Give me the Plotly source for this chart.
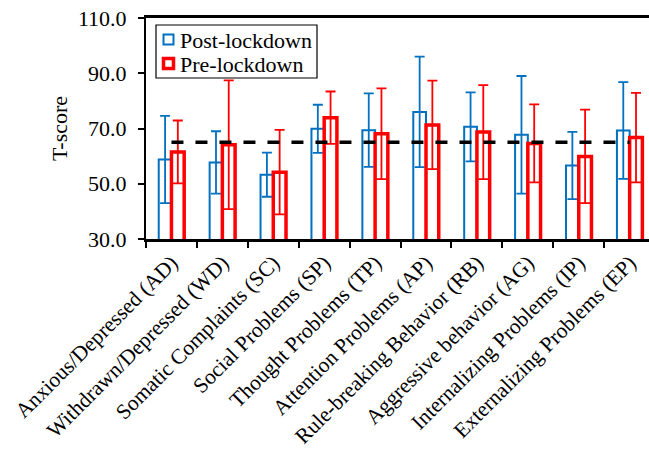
import plotly.graph_objects as go

categories = ["Anxious/Depressed (AD)", "Withdrawn/Depressed (WD)", "Somatic Complaints (SC)",
              "Social Problems (SP)", "Thought Problems (TP)", "Attention Problems (AP)",
              "Rule-breaking Behavior (RB)", "Aggressive behavior (AG)",
              "Internalizing Problems (IP)", "Externalizing Problems (EP)"]
post_mean = [58.8, 57.7, 53.3, 69.9, 69.4, 76.0, 70.6, 67.7, 56.6, 69.3]
post_sd = [15.8, 11.3, 8.0, 8.7, 13.3, 20.0, 12.5, 21.3, 12.2, 17.5]
pre_mean = [61.5, 64.1, 54.2, 73.9, 68.1, 71.3, 68.7, 64.6, 59.9, 66.7]
pre_sd = [11.4, 23.3, 15.3, 9.5, 16.4, 16.0, 17.0, 14.1, 16.9, 16.2]
cutoff = [65.0] * len(categories)
series_names = ["Post-lockdown", "Pre-lockdown"]
series_colors = ["#0070C0", "#FF0000"]

FONT = "Liberation Serif, Times New Roman, serif"
FS = 22

# plot-area geometry in pixels (layout only)
L, T, B, W, H = 146, 18, 210, 649, 449
PW, PH = W - L, H - T - B


def px_x(px):
    return (px - L) / PW


def px_y(py):
    return (H - B - py) / PH


fig = go.Figure()
fig.add_trace(go.Bar(
    x=categories, y=post_mean, name=series_names[0], showlegend=False,
    marker=dict(color="rgba(255,255,255,0)", line=dict(color=series_colors[0], width=2)),
    error_y=dict(type="data", array=post_sd, visible=True, color=series_colors[0], thickness=1.8, width=5),
))
fig.add_trace(go.Bar(
    x=categories, y=pre_mean, name=series_names[1], showlegend=False,
    marker=dict(color="rgba(255,255,255,0)", line=dict(color=series_colors[1], width=3.5)),
    error_y=dict(type="data", array=pre_sd, visible=True, color=series_colors[1], thickness=1.8, width=5),
))
fig.add_trace(go.Scatter(
    x=categories, y=cutoff, mode="lines", showlegend=False,
    line=dict(color="black", width=3.5, dash="12px,12px"),
))

# legend box drawn as layout shapes + text annotations
shapes = [dict(type="rect", xref="paper", yref="paper",
               x0=px_x(156), x1=px_x(317), y0=px_y(78), y1=px_y(25),
               line=dict(color="black", width=1.2), fillcolor="white", layer="above")]
annotations = []
rows = [39.5, 63.5]
widths = [2, 3.5]
for name, col, cy, lw in zip(series_names, series_colors, rows, widths):
    shapes.append(dict(type="rect", xref="paper", yref="paper",
                       x0=px_x(163.5), x1=px_x(173.5), y0=px_y(cy + 5), y1=px_y(cy - 5),
                       line=dict(color=col, width=lw), fillcolor="white", layer="above"))
    annotations.append(dict(text=name, xref="paper", yref="paper", x=px_x(177.5), y=px_y(cy + 1),
                            xanchor="left", yanchor="middle", showarrow=False,
                            font=dict(family=FONT, size=FS, color="black")))

fig.update_layout(
    width=W, height=H,
    margin=dict(l=L, r=0, t=T, b=B, autoexpand=False),
    paper_bgcolor="white", plot_bgcolor="white",
    barmode="group", bargap=0.5, bargroupgap=0,
    font=dict(family=FONT, size=FS, color="black"),
    showlegend=False,
    shapes=shapes, annotations=annotations,
    xaxis=dict(range=[-0.5, 9.38], tickangle=-45, tickson="boundaries",
               ticks="outside", ticklen=6, tickwidth=2, tickcolor="black",
               showline=True, linecolor="black", linewidth=2.5,
               ticklabelstandoff=0, automargin=False,
               mirror=True, showgrid=False, tickfont=dict(size=21.5)),
    yaxis=dict(range=[30, 110], tick0=30, dtick=20, tickformat=".1f",
               ticks="outside", ticklen=6, tickwidth=1.5, tickcolor="black",
               showline=True, linecolor="black", linewidth=2,
               ticklabelstandoff=7, automargin=False,
               showgrid=False, zeroline=False, tickfont=dict(size=FS),
               title=dict(text="T-score", font=dict(size=FS), standoff=4)),
)

fig.write_html("out.html")
